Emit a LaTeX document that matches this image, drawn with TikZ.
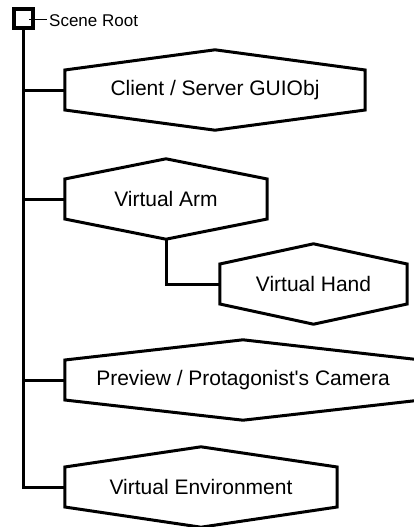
\documentclass[tikz,border=0pt]{standalone}
\usepackage{fontspec}
\setmainfont{Liberation Sans}
\newfontfamily\libsans{Liberation Sans}
\begin{document}
\begin{tikzpicture}[x=1pt,y=-1pt,
  conn/.style={line width=3pt},
  hexline/.style={line width=3pt, line join=miter},
  hexnode/.style={rectangle, inner sep=0pt, minimum height=80pt, minimum width=#1,
    font=\libsans\fontsize{21}{25}\selectfont, text=black},
  rootbox/.style={rectangle, draw, line width=4pt, minimum size=19pt, inner sep=0pt},
  rootlabel/.style={inner sep=2pt, anchor=west, font=\libsans\fontsize{17}{20}\selectfont}
]
\useasboundingbox (0,0) rectangle (414,527);
\clip (0,0) rectangle (414,527);

% nodes
\node[rootbox] (root) at (23,19) {};
\node[rootlabel] (rootlbl) at (47,21) {Scene Root};
\coordinate (rootin) at (29,20);

\node[hexnode=300pt] (gui)  at (215,90)   {Client / Server GUIObj};
\node[hexnode=202pt] (arm)  at (166,199)  {Virtual Arm};
\node[hexnode=187pt] (hand) at (313.5,284) {Virtual Hand};
\node[hexnode=356pt] (prev) at (243,380)  {Preview / Protagonist's Camera};
\node[hexnode=272pt] (env)  at (201,487)  {Virtual Environment};

% hexagon outlines
\foreach \n in {gui,arm,hand,prev,env}{
  \draw[hexline] ([yshift=20pt]\n.west) -- (\n.north) -- ([yshift=20pt]\n.east)
     -- ([yshift=-20pt]\n.east) -- (\n.south) -- ([yshift=-20pt]\n.west) -- cycle;
}

% connectors
\draw[line width=1pt] (rootin) -- (rootlbl.west |- rootin);
\draw[conn] (root.south) |- (env.west);
\draw[conn] (root.south |- gui.west) -- (gui.west);
\draw[conn] (root.south |- arm.west) -- (arm.west);
\draw[conn] (root.south |- prev.west) -- (prev.west);
\draw[conn] (arm.south) |- (hand.west);
\end{tikzpicture}
\end{document}
